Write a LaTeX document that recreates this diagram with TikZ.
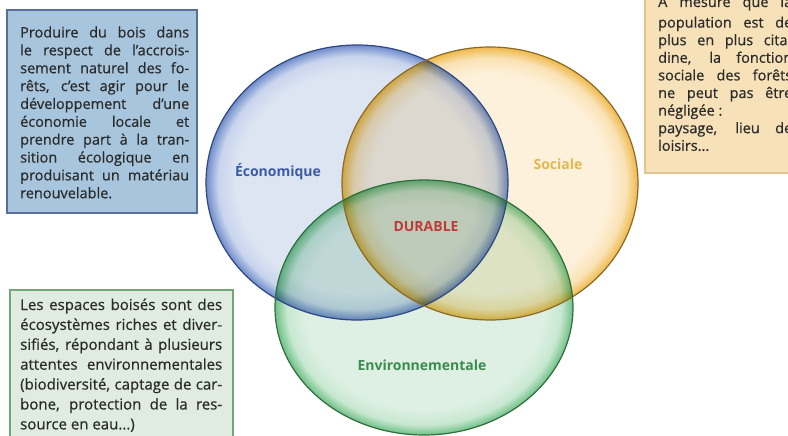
\documentclass[tikz,border=0pt]{standalone}
\usepackage{fontspec}
\setmainfont{Open Sans}
\newfontfamily\boxfont{Open Sans}[FakeBold=0.5]
\usetikzlibrary{shapes.geometric}

\definecolor{bluepale}{HTML}{DDE5F3}
\definecolor{bluemid}{HTML}{C9D5EE}
\definecolor{blueedge}{HTML}{6F8CCB}
\definecolor{blueline}{HTML}{2F4785}
\definecolor{orpale}{HTML}{FEF1DB}
\definecolor{ormid}{HTML}{FAE2B4}
\definecolor{oredge}{HTML}{EFB94A}
\definecolor{orline}{HTML}{8A6A28}
\definecolor{grpale}{HTML}{DEF0E3}
\definecolor{grmid}{HTML}{C8E8D1}
\definecolor{gredge}{HTML}{6FC085}
\definecolor{grline}{HTML}{2E6E3E}

\definecolor{boxblue}{HTML}{A7C6DD}
\definecolor{boxblueline}{HTML}{5B6E99}
\definecolor{boxor}{HTML}{F6E1B8}
\definecolor{boxorline}{HTML}{E0C58E}
\definecolor{boxgr}{HTML}{DFECDF}
\definecolor{boxgrline}{HTML}{72A878}
\definecolor{boxtext}{HTML}{2A2A2A}

\definecolor{txtblue}{HTML}{3B5BA8}
\definecolor{txtor}{HTML}{E2B84E}
\definecolor{txtred}{HTML}{C03A3A}
\definecolor{txtgreen}{HTML}{3C8C50}

\pgfdeclareradialshading{blueglow}{\pgfpoint{0bp}{0bp}}{color(0bp)=(bluepale); color(20bp)=(bluepale); color(23bp)=(bluemid); color(25bp)=(blueedge); color(50bp)=(blueedge)}
\pgfdeclareradialshading{orglow}{\pgfpoint{0bp}{0bp}}{color(0bp)=(orpale); color(20bp)=(orpale); color(23bp)=(ormid); color(25bp)=(oredge); color(50bp)=(oredge)}
\pgfdeclareradialshading{grglow}{\pgfpoint{0bp}{0bp}}{color(0bp)=(grpale); color(20bp)=(grpale); color(23bp)=(grmid); color(25bp)=(gredge); color(50bp)=(gredge)}

\newcommand\jl[1]{\makebox[\linewidth][s]{#1}\\}

\tikzset{
  infobox/.style={line width=1.3pt},
  boxtxt/.style={anchor=base west, inner sep=0pt, text=boxtext},
  circlabel/.style={inner sep=0pt, font=\bfseries\fontsize{14}{16}\selectfont},
  ring/.style={line width=1.2pt},
}

\begin{document}
\begin{tikzpicture}[x=1pt,y=-1pt]
\useasboundingbox (0,0) rectangle (788,436);
\clip (0,0) rectangle (788,436);

% info boxes
\draw[infobox, fill=boxblue, draw=boxblueline] (7,10) rectangle (197,213);
\draw[infobox, fill=boxor, draw=boxorline] (645,-10) rectangle (800,173);
\draw[infobox, fill=boxgr, draw=boxgrline] (10,290) rectangle (233,450);

\node[boxtxt] (ecotext) at (20,37.5) {\parbox[t]{169pt}{\boxfont\fontsize{14.5}{17.86}\selectfont
\jl{Produire du bois dans}
\jl{le respect de l’accrois-}
\jl{sement naturel des fo-}
\jl{rêts, c’est agir pour le}
\jl{développement d’une}
\jl{économie locale et}
\jl{prendre part à la tran-}
\jl{sition écologique en}
\jl{produisant un matériau}
renouvelable.}};

\node[boxtxt] (soctext) at (658,7) {\parbox[t]{134pt}{\boxfont\fontsize{14.5}{17.6}\selectfont
\makebox[\linewidth][s]{À mesure que la}\\[3pt]
\jl{population est de}
\jl{plus en plus cita-}
\jl{dine, la fonction}
\jl{sociale des forêts}
\jl{ne peut pas être}
négligée :\\
\jl{paysage, lieu de}
loisirs...}};

\node[boxtxt] (envtext) at (20,310) {\parbox[t]{202pt}{\boxfont\fontsize{15}{19.9}\selectfont
\jl{Les espaces boisés sont des}
\jl{écosystèmes riches et diver-}
\jl{sifiés, répondant à plusieurs}
\jl{attentes environnementales}
\jl{(biodiversité, captage de car-}
\jl{bone, protection de la res-}
source en eau...)}};

% Venn ellipses
\begin{scope}[blend mode=multiply]
\shade[shading=blueglow] (357,182.5) ellipse [x radius=151pt, y radius=137.5pt];
\shade[shading=orglow] (490,183.5) ellipse [x radius=148pt, y radius=136.5pt];
\shade[shading=grglow] (424,307.5) ellipse [x radius=149pt, y radius=127.5pt];
\end{scope}
\draw[ring, draw=blueline] (357,182.5) ellipse [x radius=151pt, y radius=137.5pt];
\draw[ring, draw=orline] (490,183.5) ellipse [x radius=148pt, y radius=136.5pt];
\draw[ring, draw=grline] (424,307.5) ellipse [x radius=149pt, y radius=127.5pt];

% labels
\node[circlabel, text=txtblue] (eco) at (278,172) {Économique};
\node[circlabel, text=txtor] (soc) at (558,164) {Sociale};
\node[circlabel, text=txtred] (dur) at (426,227) {DURABLE};
\node[circlabel, text=txtgreen] (env) at (422,365) {Environnementale};
\end{tikzpicture}
\end{document}
